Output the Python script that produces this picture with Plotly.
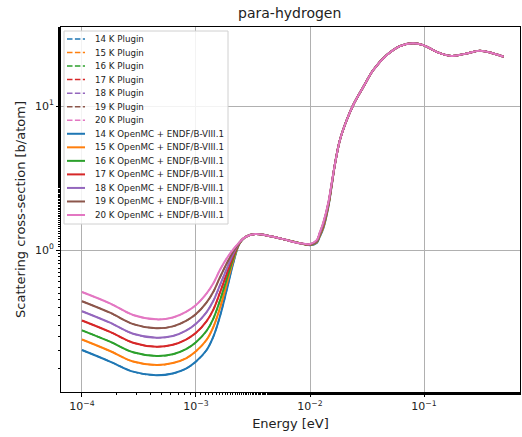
import plotly.graph_objects as go

temps = ["14 K", "15 K", "16 K", "17 K", "18 K", "19 K", "20 K"]
colors = ["#1f77b4", "#ff7f0e", "#2ca02c", "#d62728", "#9467bd", "#8c564b", "#e377c2"]

energy = [1e-4, 1.76e-4, 2.81e-4, 4.49e-4, 6.26e-4, 8.18e-4, 1e-3, 1.24e-3, 1.42e-3, 1.62e-3,
          1.86e-3, 2.12e-3, 2.4e-3,
          2.7e-3, 3.3e-3, 4.5e-3, 5.8e-3, 8.2e-3,
          1e-2, 1.145e-2, 1.22e-2, 1.31e-2, 1.45e-2, 1.55e-2,
          1.66e-2, 1.83e-2, 2.1e-2, 2.4e-2, 2.94e-2, 3.59e-2, 4.71e-2, 6.15e-2, 8.0e-2, 9.86e-2,
          1.29e-1, 1.75e-1, 2.37e-1, 3.09e-1, 4.05e-1, 5.0e-1]

mid = [1.23, 1.29, 1.245, 1.19, 1.115]
high = [4.0, 5.81, 8.0, 10.2, 13.6, 17.8, 22.6, 26.1, 27.3, 26.5, 23.8, 22.3, 23.2, 24.2, 23.2, 22.0]

xs_14 = [0.202, 0.168, 0.143, 0.135, 0.139, 0.150, 0.168, 0.202, 0.250, 0.344, 0.527, 0.808, 1.10] + mid + [1.080, 1.12, 1.24, 1.42, 2.00, 2.80] + high
xs_15 = [0.239, 0.199, 0.168, 0.159, 0.164, 0.177, 0.198, 0.238, 0.292, 0.394, 0.578, 0.841, 1.105] + mid + [1.083, 1.13, 1.255, 1.44, 2.03, 2.82] + high
xs_16 = [0.277, 0.231, 0.195, 0.184, 0.189, 0.205, 0.229, 0.275, 0.334, 0.444, 0.627, 0.872, 1.11] + mid + [1.087, 1.14, 1.27, 1.47, 2.05, 2.84] + high
xs_17 = [0.324, 0.270, 0.227, 0.213, 0.220, 0.239, 0.266, 0.321, 0.386, 0.504, 0.682, 0.905, 1.115] + mid + [1.090, 1.15, 1.285, 1.49, 2.08, 2.86] + high
xs_18 = [0.376, 0.313, 0.262, 0.246, 0.253, 0.276, 0.308, 0.371, 0.444, 0.568, 0.740, 0.938, 1.12] + mid + [1.093, 1.155, 1.30, 1.51, 2.10, 2.88] + high
xs_19 = [0.441, 0.367, 0.306, 0.286, 0.295, 0.322, 0.359, 0.433, 0.513, 0.644, 0.807, 0.974, 1.125] + mid + [1.097, 1.16, 1.315, 1.54, 2.13, 2.90] + high
xs_20 = [0.511, 0.426, 0.354, 0.330, 0.340, 0.372, 0.415, 0.500, 0.587, 0.726, 0.875, 1.01, 1.13] + mid + [1.100, 1.17, 1.33, 1.56, 2.15, 2.92] + high

series = [xs_14, xs_15, xs_16, xs_17, xs_18, xs_19, xs_20]

W, H = 522, 437
L, R, T, B = 61, 2, 27, 45
PW, PH = W - L - R, H - T - B

fig = go.Figure()
labels = []
for t, c, ys in zip(temps, colors, series):
    fig.add_trace(go.Scatter(x=energy, y=ys, mode="lines", name=f"{t} Plugin", showlegend=False,
                             line=dict(color=c, width=1.5, dash="5.5px,2.4px", shape="spline", smoothing=1.0)))
    labels.append((f"{t} Plugin", c, "5.5px,2.4px", 1.5))
for t, c, ys in zip(temps, colors, series):
    fig.add_trace(go.Scatter(x=energy, y=ys, mode="lines", name=f"{t} OpenMC + ENDF/B-VIII.1", showlegend=False,
                             line=dict(color=c, width=2, shape="spline", smoothing=1.0)))
    labels.append((f"{t} OpenMC + ENDF/B-VIII.1", c, "solid", 2))

def px(x):
    return (x - L) / PW

def py(y):
    return (H - B - y) / PH

font = "DejaVu Sans, sans-serif"
shapes = [dict(type="rect", xref="paper", yref="paper", x0=px(64), x1=px(228), y0=py(224), y1=py(31),
               line=dict(color="#d0d0d0", width=1), fillcolor="rgba(255,255,255,0.85)", layer="above")]
annotations = []
for i, (name, c, dash, w) in enumerate(labels):
    yy = 39 + 13.54 * i
    shapes.append(dict(type="line", xref="paper", yref="paper", x0=px(67), x1=px(85), y0=py(yy), y1=py(yy),
                       line=dict(color=c, width=w, dash=dash), layer="above"))
    annotations.append(dict(xref="paper", yref="paper", x=px(93), y=py(yy), xanchor="left", yanchor="middle",
                            text=name, showarrow=False, font=dict(size=8.7, color="#222", family=font)))

fig.update_layout(
    width=W, height=H,
    margin=dict(l=L, r=R, t=T, b=B),
    paper_bgcolor="white", plot_bgcolor="white",
    font=dict(family=font, size=11, color="#222"),
    title=dict(text="para-hydrogen", x=0.555, xanchor="center", y=0.97, yanchor="middle",
               font=dict(size=14, color="#222")),
    showlegend=False,
    shapes=shapes,
    annotations=annotations,
)
fig.update_xaxes(type="log", range=[-4.184, -0.158],
                 tickvals=[1e-4, 1e-3, 1e-2, 1e-1],
                 ticktext=["10<sup>−4</sup>", "10<sup>−3</sup>", "10<sup>−2</sup>", "10<sup>−1</sup>"],
                 ticks="outside", ticklen=4, tickcolor="black",
                 showgrid=True, gridcolor="#b0b0b0", gridwidth=1,
                 showline=True, linecolor="black", linewidth=1, mirror=True,
                 minor=dict(ticks="outside", ticklen=2, tickcolor="black", showgrid=False),
                 title=dict(text="Energy [eV]", standoff=6), zeroline=False)
fig.update_yaxes(type="log", range=[-0.986, 1.549],
                 tickvals=[1, 10],
                 ticktext=["10<sup>0</sup>", "10<sup>1</sup>"],
                 ticks="outside", ticklen=4, tickcolor="black",
                 showgrid=True, gridcolor="#b0b0b0", gridwidth=1,
                 showline=True, linecolor="black", linewidth=1, mirror=True,
                 minor=dict(ticks="outside", ticklen=2, tickcolor="black", showgrid=False),
                 title=dict(text="Scattering cross-section [b/atom]", standoff=6), zeroline=False)

fig.write_html("out.html")
